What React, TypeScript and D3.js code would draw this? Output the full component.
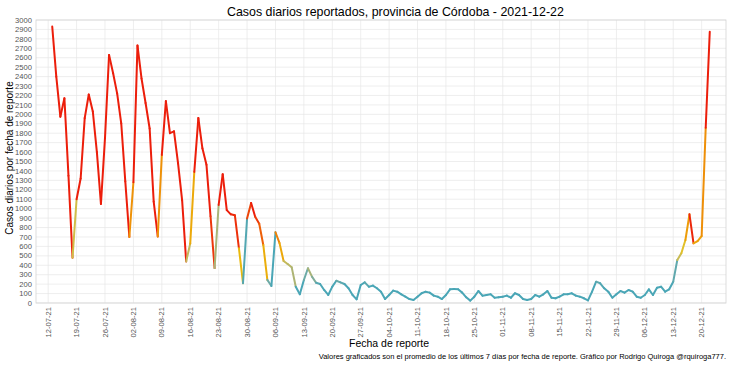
import React from "react";
import * as d3 from "d3";

// promedio 7 dias, casos por fecha de reporte, desde 13-07-2021
const inicio = "2021-07-13";
const casos = [
  2930, 2400, 1975, 2170, 1350, 480, 1100, 1320, 1960, 2210, 2030, 1600, 1050, 1750,
  2630, 2435, 2220, 1905, 1290, 700, 1280, 2730, 2380, 2120, 1850, 1075, 705, 1570,
  2140, 1800, 1820, 1480, 1090, 440, 630, 1390, 1960, 1640, 1465, 920, 370, 1040,
  1365, 985, 940, 930, 580, 210, 895, 1060, 915, 840, 615, 245, 180, 750,
  635, 445, 413, 378, 173, 92, 244, 368, 279, 215, 201, 138, 85, 173,
  236, 219, 201, 156, 85, 39, 191, 219, 173, 184, 156, 120, 42, 85,
  131, 120, 92, 67, 42, 32, 67, 103, 120, 110, 78, 67, 42, 85,
  145, 148, 145, 110, 60, 25, 67, 127, 78, 85, 92, 56, 60, 67,
  78, 56, 103, 85, 42, 32, 42, 85, 67, 92, 127, 56, 50, 67,
  92, 92, 103, 78, 67, 50, 28, 120, 226, 209, 156, 120, 56, 92,
  127, 110, 138, 120, 67, 56, 85, 145, 85, 162, 173, 120, 145, 226,
  456, 527, 668, 940, 633, 657, 710, 1858, 2876,
];
const yTicks = d3.range(0, 3001, 100);
const primerTick = "2021-07-12";
const ultimoTick = "2021-12-20";

const titulo = "Casos diarios reportados, provincia de Córdoba - 2021-12-22";
const tituloY = "Casos diarios por fecha de reporte";
const tituloX = "Fecha de reporte";
const nota =
  "Valores graficados son el promedio de los últimos 7 días por fecha de reporte. Gráfico por Rodrigo Quiroga @rquiroga777.";

const W = 730;
const H = 365;

export default function App() {
  const parse = d3.utcParse("%Y-%m-%d");
  const fmt = d3.utcFormat("%d-%m-%y");
  const t0 = parse(inicio)!;
  const datos = casos.map((v, i) => ({ fecha: d3.utcDay.offset(t0, i), v }));

  const x = d3
    .scaleUtc()
    .domain([parse("2021-07-09")!, parse("2021-12-26")!])
    .range([36, 726]);
  const y = d3.scaleLinear().domain([0, 3000]).range([303, 20]);

  const color = d3
    .scaleLinear<string>()
    .domain([200, 550, 950])
    .range(["#4aa6b6", "#e8c20e", "#ec1e0b"])
    .interpolate(d3.interpolateLab)
    .clamp(true);

  const xTicks = d3.utcMonday.range(parse(primerTick)!, d3.utcDay.offset(parse(ultimoTick)!, 1));

  const linea = d3
    .line<{ fecha: Date; v: number }>()
    .x((d) => x(d.fecha))
    .y((d) => y(d.v));

  const font = "'Liberation Sans', Arial, sans-serif";

  return (
    <svg
      width={W}
      height={H}
      style={{ position: "absolute", left: 0, top: 0, background: "#fff" }}
      fontFamily={font}
    >
      {/* grilla */}
      <g stroke="#e6e6e6" strokeWidth={0.7}>
        {yTicks.map((t) => (
          <line key={t} x1={36} x2={726} y1={y(t)} y2={y(t)} />
        ))}
        {xTicks.map((t) => (
          <line key={+t} x1={x(t)} x2={x(t)} y1={20} y2={303} />
        ))}
      </g>
      <rect x={36} y={20} width={690} height={283} fill="none" stroke="#d4d4d4" strokeWidth={0.8} />

      {/* serie coloreada por valor (cada tramo toma el color del punto inicial) */}
      <g fill="none" strokeWidth={2} strokeLinecap="round" strokeLinejoin="round">
        {datos.slice(0, -1).map((d, i) => (
          <path key={i} d={linea([d, datos[i + 1]])!} stroke={color(d.v)} />
        ))}
      </g>

      {/* ejes */}
      <g fontSize={7.6} fill="#555" textAnchor="end">
        {yTicks.map((t) => (
          <text key={t} x={32} y={y(t)} dy="0.35em">
            {t}
          </text>
        ))}
      </g>
      <g fontSize={7.6} fill="#555" textAnchor="end">
        {xTicks.map((t) => (
          <text
            key={+t}
            transform={`translate(${x(t)},307) rotate(-90)`}
            dy="0.35em"
          >
            {fmt(t)}
          </text>
        ))}
      </g>

      <text x={227} y={16} fontSize={12.4} fill="#000">
        {titulo}
      </text>
      <text
        transform={`translate(13,158) rotate(-90)`}
        textAnchor="middle"
        fontSize={10}
        fill="#000"
      >
        {tituloY}
      </text>
      <text x={389} y={347} textAnchor="middle" fontSize={10.5} fill="#000">
        {tituloX}
      </text>
      <text x={726} y={359} textAnchor="end" fontSize={7.5} fill="#000">
        {nota}
      </text>
    </svg>
  );
}
